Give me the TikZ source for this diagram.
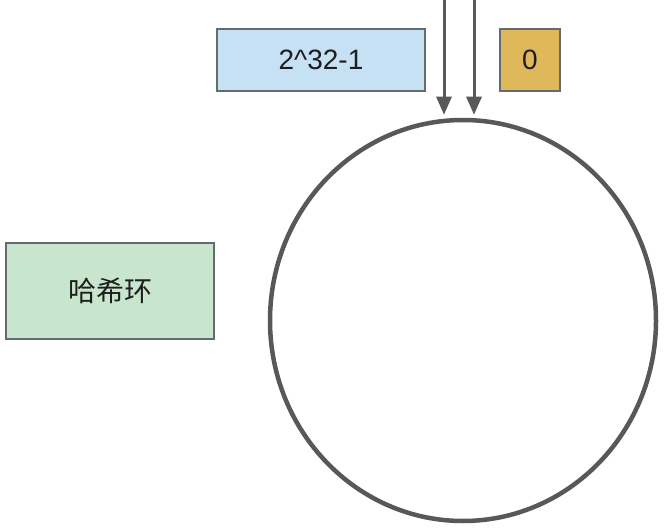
\documentclass[tikz,border=0pt]{standalone}
\usepackage{fontspec}
\setmainfont{Liberation Sans}
\newfontfamily\cjk{Noto Sans CJK SC}
\usepackage{tikz}
\usetikzlibrary{shapes.geometric, arrows.meta, positioning}
\definecolor{ringgray}{RGB}{88,88,88}
\definecolor{edgegray}{RGB}{100,108,110}
\definecolor{hashblue}{RGB}{198,224,244}
\definecolor{hashgold}{RGB}{224,184,92}
\definecolor{hashgreen}{RGB}{200,230,205}
\definecolor{textdark}{RGB}{30,30,30}

\begin{document}
\begin{tikzpicture}[
  x=1pt, y=-1pt,
  valbox/.style={rectangle, draw=edgegray, line width=1.5pt, inner sep=0pt, text=textdark, font=\fontsize{28}{32}\selectfont},
  ring/.style={ellipse, draw=ringgray, line width=4.5pt, inner sep=0pt},
  pointer/.style={draw=ringgray, line width=3pt, -{Triangle[width=15pt, length=18pt]}, shorten >=3pt}
]
\useasboundingbox (0,0) rectangle (668,529);

% the hash ring
\node[ring, minimum width=386pt, minimum height=401pt] (hashring) at (463,320.5) {};

% end values of the ring
\node[valbox, fill=hashblue, minimum width=208pt, minimum height=62pt] (maxval) at (321,60) {2\textasciicircum 32-1};
\node[valbox, fill=hashgold, minimum width=60pt, minimum height=62pt] (zeroval) at (530,60) {0};

% label
\node[valbox, fill=hashgreen, minimum width=208pt, minimum height=96pt] (ringlabel) at (110,291) {\cjk 哈希环};

% pointers onto the ring top
\coordinate (maxin) at (444,0);
\coordinate (zeroin) at (474,0);
\draw[pointer] (maxin) -- (maxin |- hashring.north);
\draw[pointer] (zeroin) -- (zeroin |- hashring.north);

\end{tikzpicture}
\end{document}
